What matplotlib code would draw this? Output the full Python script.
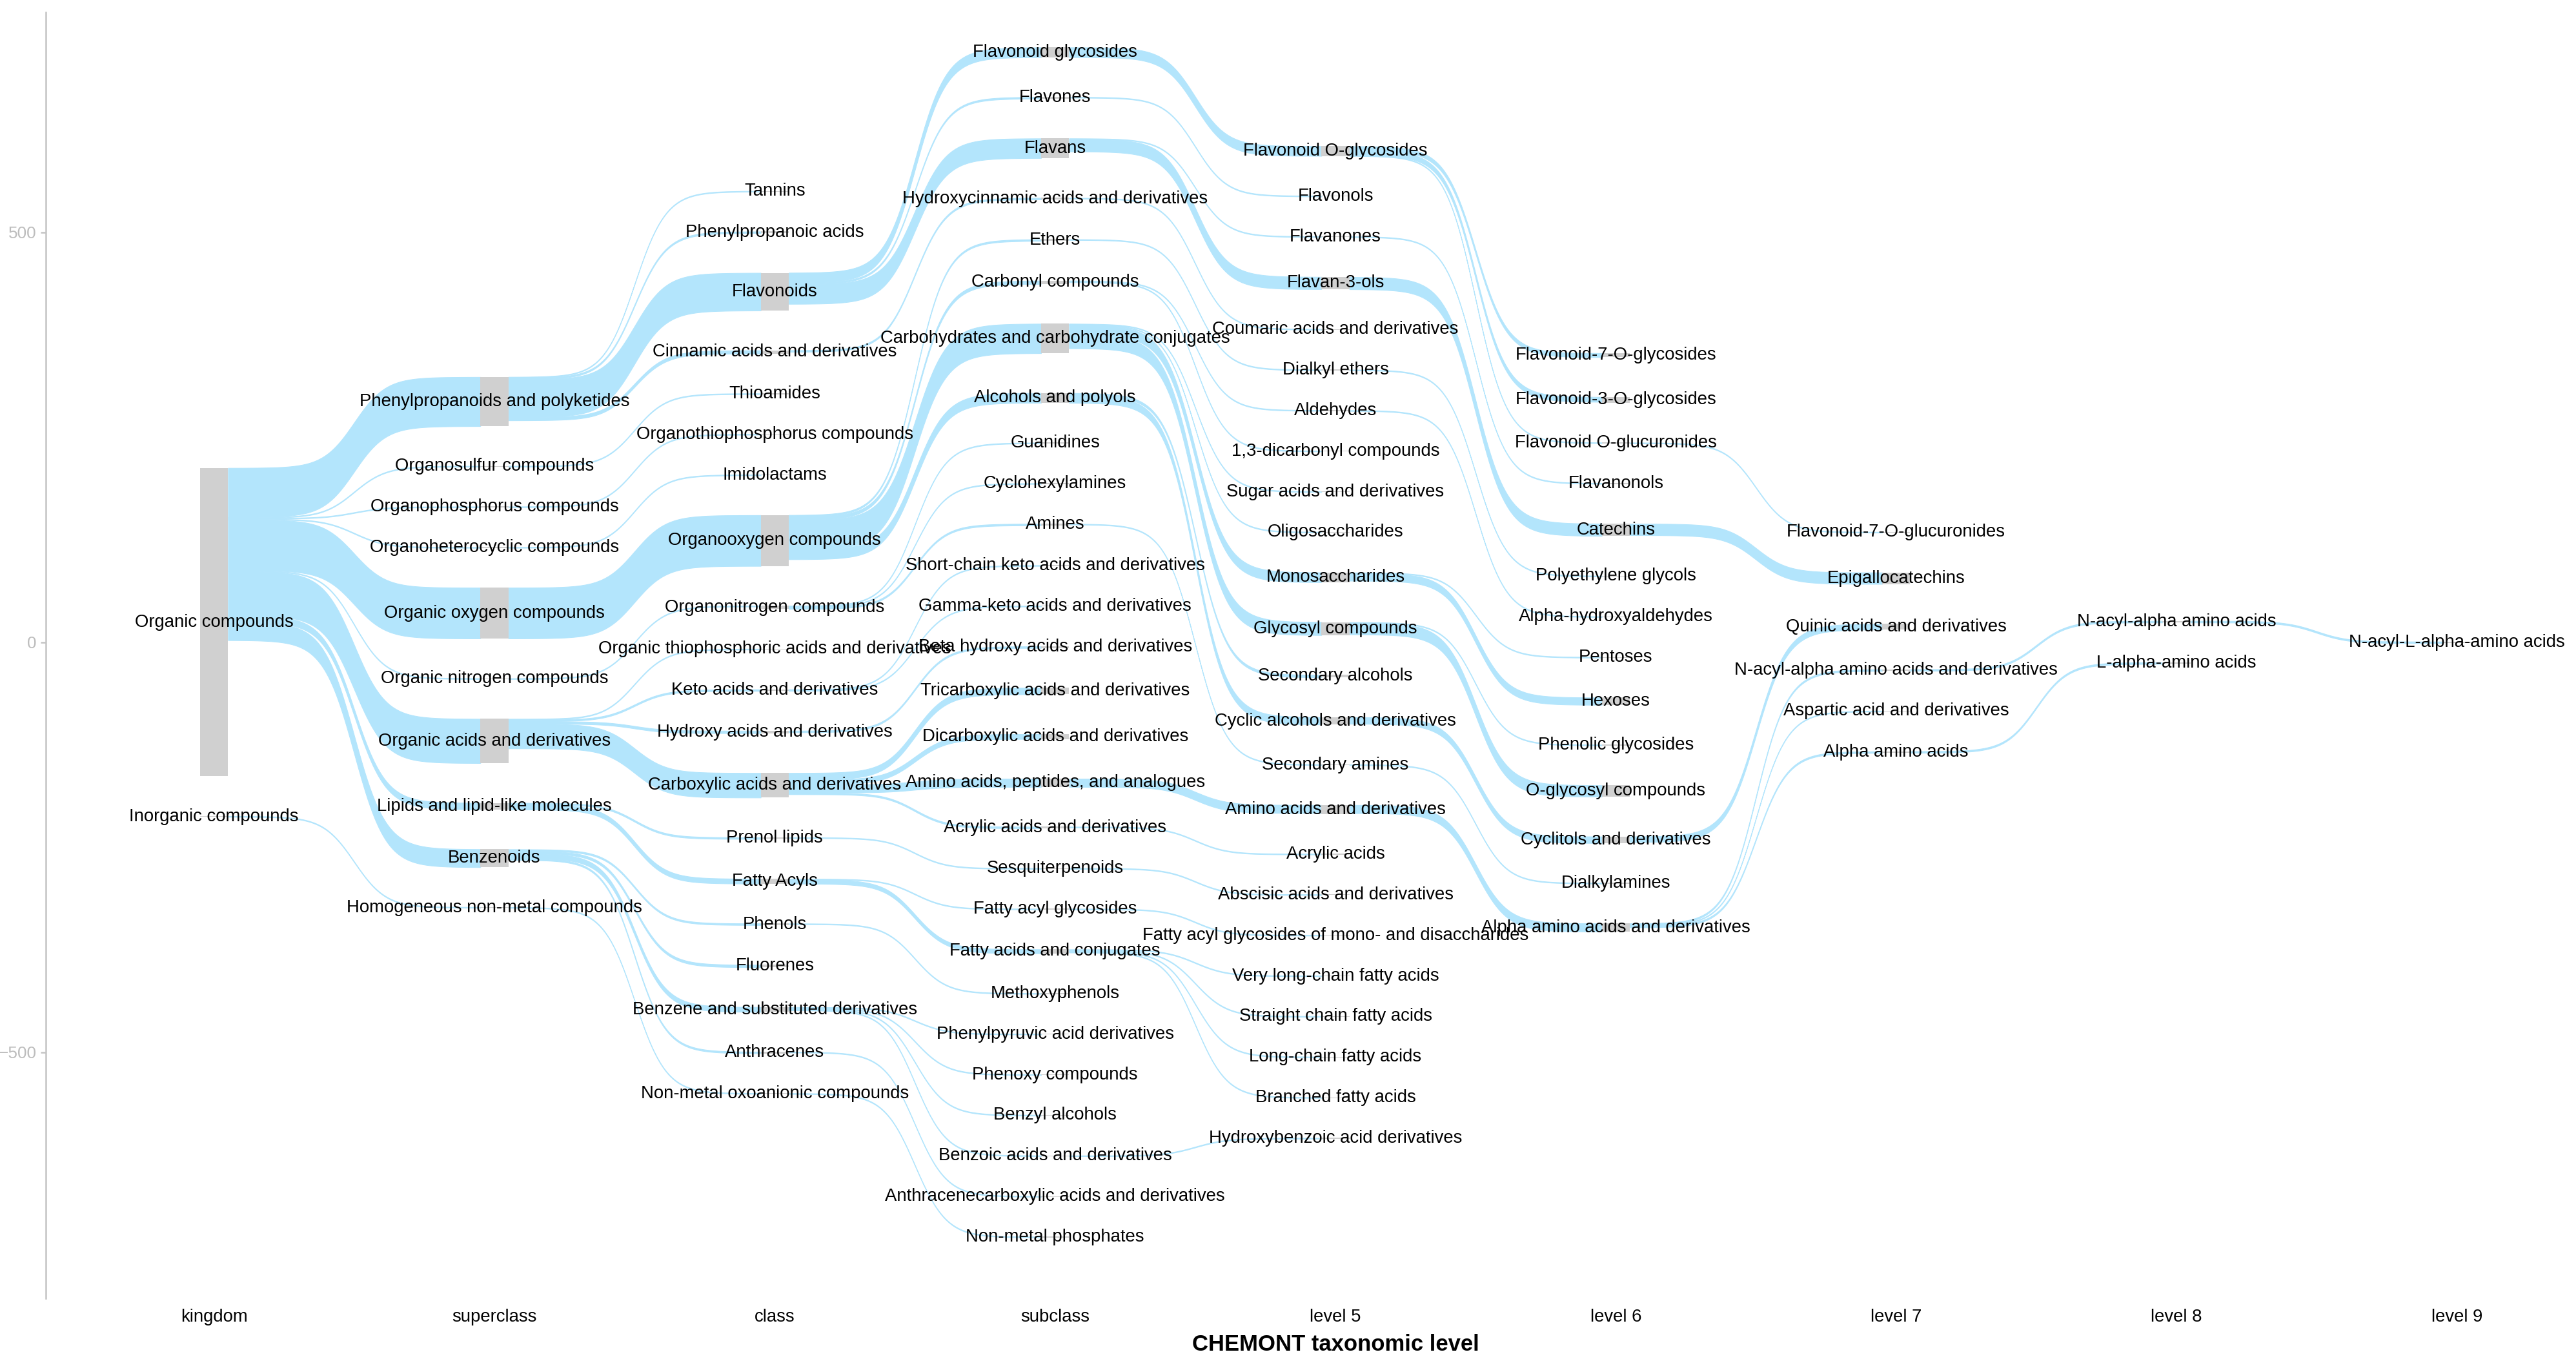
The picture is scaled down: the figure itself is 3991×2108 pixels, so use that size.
#!/usr/bin/env python3
"""CHEMONT taxonomy sankey (ggsankey style) recreated with matplotlib."""
import matplotlib
matplotlib.use("Agg")
import matplotlib.pyplot as plt
import numpy as np
from matplotlib.patches import Rectangle

plt.rcParams["font.family"] = ["Liberation Sans", "DejaVu Sans"]

FLOW = "#b3e5fc"
NODE = "#d0d0d0"
AXIS_GREY = "#c4c4c4"
SPACE = 48.5      # gap between nodes (y units)
NODE_W = 0.1      # node width (x units)

LEVELS = ["kingdom", "superclass", "class", "subclass", "level 5",
          "level 6", "level 7", "level 8", "level 9"]

# --- nodes per level (top -> bottom) and their counts ---
KINGDOM = ["Organic compounds", "Inorganic compounds"]
KINGDOM_N = [376, 1]

SUPERCLASS = ["Phenylpropanoids and polyketides", "Organosulfur compounds",
              "Organophosphorus compounds", "Organoheterocyclic compounds",
              "Organic oxygen compounds", "Organic nitrogen compounds",
              "Organic acids and derivatives", "Lipids and lipid-like molecules",
              "Benzenoids", "Homogeneous non-metal compounds"]
SUPERCLASS_N = [60, 1, 1, 1, 62, 1, 54, 8, 22, 1]

CLASS = ["Tannins", "Phenylpropanoic acids", "Flavonoids",
         "Cinnamic acids and derivatives", "Thioamides",
         "Organothiophosphorus compounds", "Imidolactams",
         "Organooxygen compounds", "Organonitrogen compounds",
         "Organic thiophosphoric acids and derivatives",
         "Keto acids and derivatives", "Hydroxy acids and derivatives",
         "Carboxylic acids and derivatives", "Prenol lipids", "Fatty Acyls",
         "Phenols", "Fluorenes", "Benzene and substituted derivatives",
         "Anthracenes", "Non-metal oxoanionic compounds"]
CLASS_N = [1, 2, 46, 4, 1, 1, 1, 62, 4, 1, 2, 3, 30, 2, 6, 2, 3, 6, 2, 1]

SUBCLASS = ["Flavonoid glycosides", "Flavones", "Flavans",
            "Hydroxycinnamic acids and derivatives", "Ethers",
            "Carbonyl compounds", "Carbohydrates and carbohydrate conjugates",
            "Alcohols and polyols", "Guanidines", "Cyclohexylamines", "Amines",
            "Short-chain keto acids and derivatives",
            "Gamma-keto acids and derivatives",
            "Beta hydroxy acids and derivatives",
            "Tricarboxylic acids and derivatives",
            "Dicarboxylic acids and derivatives",
            "Amino acids, peptides, and analogues",
            "Acrylic acids and derivatives", "Sesquiterpenoids",
            "Fatty acyl glycosides", "Fatty acids and conjugates",
            "Methoxyphenols", "Phenylpyruvic acid derivatives",
            "Phenoxy compounds", "Benzyl alcohols",
            "Benzoic acids and derivatives",
            "Anthracenecarboxylic acids and derivatives", "Non-metal phosphates"]
SUBCLASS_N = [12, 2, 24, 2, 2, 4, 36, 12, 1, 1, 2, 1, 1, 2, 8, 6, 10, 2,
              1, 1, 5, 1, 1, 1, 1, 1, 1, 1]

LEVEL5 = ["Flavonoid O-glycosides", "Flavonols", "Flavanones", "Flavan-3-ols",
          "Coumaric acids and derivatives", "Dialkyl ethers", "Aldehydes",
          "1,3-dicarbonyl compounds", "Sugar acids and derivatives",
          "Oligosaccharides", "Monosaccharides", "Glycosyl compounds",
          "Secondary alcohols", "Cyclic alcohols and derivatives",
          "Secondary amines", "Amino acids and derivatives", "Acrylic acids",
          "Abscisic acids and derivatives",
          "Fatty acyl glycosides of mono- and disaccharides",
          "Very long-chain fatty acids", "Straight chain fatty acids",
          "Long-chain fatty acids", "Branched fatty acids",
          "Hydroxybenzoic acid derivatives"]
LEVEL5_N = [12, 1, 1, 15, 1, 1, 1, 1, 1, 1, 12, 16, 3, 9, 1, 11,
            1, 1, 1, 1, 1, 1, 1, 1]

LEVEL6 = ["Flavonoid-7-O-glycosides", "Flavonoid-3-O-glycosides",
          "Flavonoid O-glucuronides", "Flavanonols", "Catechins",
          "Polyethylene glycols", "Alpha-hydroxyaldehydes", "Pentoses",
          "Hexoses", "Phenolic glycosides", "O-glycosyl compounds",
          "Cyclitols and derivatives", "Dialkylamines",
          "Alpha amino acids and derivatives"]
LEVEL6_N = [5, 7, 1, 1, 15, 1, 1, 1, 9, 1, 14, 8, 1, 10]

LEVEL7 = ["Flavonoid-7-O-glucuronides", "Epigallocatechins",
          "Quinic acids and derivatives",
          "N-acyl-alpha amino acids and derivatives",
          "Aspartic acid and derivatives", "Alpha amino acids"]
LEVEL7_N = [1, 14, 7, 2, 1, 2]

LEVEL8 = ["N-acyl-alpha amino acids", "L-alpha-amino acids"]
LEVEL8_N = [2, 2]

LEVEL9 = ["N-acyl-L-alpha-amino acids"]
LEVEL9_N = [2]

# --- flows between consecutive levels: (source, target, count) ---
LINKS_1_2 = [
    ("Organic compounds", "Phenylpropanoids and polyketides", 60),
    ("Organic compounds", "Organosulfur compounds", 1),
    ("Organic compounds", "Organophosphorus compounds", 1),
    ("Organic compounds", "Organoheterocyclic compounds", 1),
    ("Organic compounds", "Organic oxygen compounds", 62),
    ("Organic compounds", "Organic nitrogen compounds", 1),
    ("Organic compounds", "Organic acids and derivatives", 54),
    ("Organic compounds", "Lipids and lipid-like molecules", 8),
    ("Organic compounds", "Benzenoids", 22),
    ("Inorganic compounds", "Homogeneous non-metal compounds", 1),
]
LINKS_2_3 = [
    ("Phenylpropanoids and polyketides", "Tannins", 1),
    ("Phenylpropanoids and polyketides", "Phenylpropanoic acids", 2),
    ("Phenylpropanoids and polyketides", "Flavonoids", 46),
    ("Phenylpropanoids and polyketides", "Cinnamic acids and derivatives", 4),
    ("Organosulfur compounds", "Thioamides", 1),
    ("Organophosphorus compounds", "Organothiophosphorus compounds", 1),
    ("Organoheterocyclic compounds", "Imidolactams", 1),
    ("Organic oxygen compounds", "Organooxygen compounds", 62),
    ("Organic nitrogen compounds", "Organonitrogen compounds", 1),
    ("Organic acids and derivatives", "Organic thiophosphoric acids and derivatives", 1),
    ("Organic acids and derivatives", "Keto acids and derivatives", 2),
    ("Organic acids and derivatives", "Hydroxy acids and derivatives", 3),
    ("Organic acids and derivatives", "Carboxylic acids and derivatives", 30),
    ("Lipids and lipid-like molecules", "Prenol lipids", 2),
    ("Lipids and lipid-like molecules", "Fatty Acyls", 6),
    ("Benzenoids", "Phenols", 2),
    ("Benzenoids", "Fluorenes", 3),
    ("Benzenoids", "Benzene and substituted derivatives", 6),
    ("Benzenoids", "Anthracenes", 2),
    ("Homogeneous non-metal compounds", "Non-metal oxoanionic compounds", 1),
]
LINKS_3_4 = [
    ("Flavonoids", "Flavonoid glycosides", 12),
    ("Flavonoids", "Flavones", 2),
    ("Flavonoids", "Flavans", 24),
    ("Cinnamic acids and derivatives", "Hydroxycinnamic acids and derivatives", 2),
    ("Organooxygen compounds", "Ethers", 2),
    ("Organooxygen compounds", "Carbonyl compounds", 4),
    ("Organooxygen compounds", "Carbohydrates and carbohydrate conjugates", 36),
    ("Organooxygen compounds", "Alcohols and polyols", 12),
    ("Organonitrogen compounds", "Guanidines", 1),
    ("Organonitrogen compounds", "Cyclohexylamines", 1),
    ("Organonitrogen compounds", "Amines", 2),
    ("Keto acids and derivatives", "Short-chain keto acids and derivatives", 1),
    ("Keto acids and derivatives", "Gamma-keto acids and derivatives", 1),
    ("Hydroxy acids and derivatives", "Beta hydroxy acids and derivatives", 2),
    ("Carboxylic acids and derivatives", "Tricarboxylic acids and derivatives", 8),
    ("Carboxylic acids and derivatives", "Dicarboxylic acids and derivatives", 6),
    ("Carboxylic acids and derivatives", "Amino acids, peptides, and analogues", 10),
    ("Carboxylic acids and derivatives", "Acrylic acids and derivatives", 2),
    ("Prenol lipids", "Sesquiterpenoids", 1),
    ("Fatty Acyls", "Fatty acyl glycosides", 1),
    ("Fatty Acyls", "Fatty acids and conjugates", 5),
    ("Phenols", "Methoxyphenols", 1),
    ("Benzene and substituted derivatives", "Phenylpyruvic acid derivatives", 1),
    ("Benzene and substituted derivatives", "Phenoxy compounds", 1),
    ("Benzene and substituted derivatives", "Benzyl alcohols", 1),
    ("Benzene and substituted derivatives", "Benzoic acids and derivatives", 1),
    ("Anthracenes", "Anthracenecarboxylic acids and derivatives", 1),
    ("Non-metal oxoanionic compounds", "Non-metal phosphates", 1),
]
LINKS_4_5 = [
    ("Flavonoid glycosides", "Flavonoid O-glycosides", 12),
    ("Flavones", "Flavonols", 1),
    ("Flavans", "Flavanones", 1),
    ("Flavans", "Flavan-3-ols", 15),
    ("Hydroxycinnamic acids and derivatives", "Coumaric acids and derivatives", 1),
    ("Ethers", "Dialkyl ethers", 1),
    ("Carbonyl compounds", "Aldehydes", 1),
    ("Carbonyl compounds", "1,3-dicarbonyl compounds", 1),
    ("Carbohydrates and carbohydrate conjugates", "Sugar acids and derivatives", 1),
    ("Carbohydrates and carbohydrate conjugates", "Oligosaccharides", 1),
    ("Carbohydrates and carbohydrate conjugates", "Monosaccharides", 12),
    ("Carbohydrates and carbohydrate conjugates", "Glycosyl compounds", 16),
    ("Alcohols and polyols", "Secondary alcohols", 3),
    ("Alcohols and polyols", "Cyclic alcohols and derivatives", 9),
    ("Amines", "Secondary amines", 1),
    ("Amino acids, peptides, and analogues", "Amino acids and derivatives", 10),
    ("Acrylic acids and derivatives", "Acrylic acids", 1),
    ("Sesquiterpenoids", "Abscisic acids and derivatives", 1),
    ("Fatty acyl glycosides", "Fatty acyl glycosides of mono- and disaccharides", 1),
    ("Fatty acids and conjugates", "Very long-chain fatty acids", 1),
    ("Fatty acids and conjugates", "Straight chain fatty acids", 1),
    ("Fatty acids and conjugates", "Long-chain fatty acids", 1),
    ("Fatty acids and conjugates", "Branched fatty acids", 1),
    ("Benzoic acids and derivatives", "Hydroxybenzoic acid derivatives", 1),
]
LINKS_5_6 = [
    ("Flavonoid O-glycosides", "Flavonoid-7-O-glycosides", 5),
    ("Flavonoid O-glycosides", "Flavonoid-3-O-glycosides", 6),
    ("Flavonoid O-glycosides", "Flavonoid O-glucuronides", 1),
    ("Flavanones", "Flavanonols", 1),
    ("Flavan-3-ols", "Catechins", 15),
    ("Dialkyl ethers", "Polyethylene glycols", 1),
    ("Aldehydes", "Alpha-hydroxyaldehydes", 1),
    ("Monosaccharides", "Pentoses", 1),
    ("Monosaccharides", "Hexoses", 9),
    ("Glycosyl compounds", "Phenolic glycosides", 1),
    ("Glycosyl compounds", "O-glycosyl compounds", 14),
    ("Cyclic alcohols and derivatives", "Cyclitols and derivatives", 8),
    ("Secondary amines", "Dialkylamines", 1),
    ("Amino acids and derivatives", "Alpha amino acids and derivatives", 10),
]
LINKS_6_7 = [
    ("Flavonoid O-glucuronides", "Flavonoid-7-O-glucuronides", 1),
    ("Catechins", "Epigallocatechins", 14),
    ("Cyclitols and derivatives", "Quinic acids and derivatives", 7),
    ("Alpha amino acids and derivatives", "N-acyl-alpha amino acids and derivatives", 2),
    ("Alpha amino acids and derivatives", "Aspartic acid and derivatives", 1),
    ("Alpha amino acids and derivatives", "Alpha amino acids", 2),
]
LINKS_7_8 = [
    ("N-acyl-alpha amino acids and derivatives", "N-acyl-alpha amino acids", 2),
    ("Alpha amino acids", "L-alpha-amino acids", 2),
]
LINKS_8_9 = [
    ("N-acyl-alpha amino acids", "N-acyl-L-alpha-amino acids", 2),
]

NODES = [KINGDOM, SUPERCLASS, CLASS, SUBCLASS, LEVEL5, LEVEL6, LEVEL7, LEVEL8, LEVEL9]
COUNTS = [KINGDOM_N, SUPERCLASS_N, CLASS_N, SUBCLASS_N, LEVEL5_N, LEVEL6_N,
          LEVEL7_N, LEVEL8_N, LEVEL9_N]
LINKS = [LINKS_1_2, LINKS_2_3, LINKS_3_4, LINKS_4_5, LINKS_5_6, LINKS_6_7,
         LINKS_7_8, LINKS_8_9]


def stack_nodes(names, counts):
    """ggsankey-like stacking: nodes separated by SPACE and centred on 0."""
    total = sum(counts) + SPACE * (len(counts) - 1)
    top = total / 2
    out = {}
    for name, n in zip(names, counts):
        out[name] = (top, top - n)
        top -= n + SPACE
    return out


def sigmoid_band(ax, x0, x1, a_top, a_bot, b_top, b_bot, smooth=8, npts=200):
    t = np.linspace(-smooth, smooth, npts)
    s = 1 / (1 + np.exp(-t))
    xs = x0 + (t + smooth) / (2 * smooth) * (x1 - x0)
    top = a_top + (b_top - a_top) * s
    bot = a_bot + (b_bot - a_bot) * s
    ax.fill_between(xs, bot, top, color=FLOW, lw=0.25, ec=FLOW, zorder=1)


def main():
    fig = plt.figure(figsize=(3991 / 300, 2108 / 300), dpi=300)
    ax = fig.add_axes([71 / 3991, 97 / 2108, 3996 / 3991, 1992 / 2108])
    ax.set_xlim(0.4, 9.6)
    ax.set_ylim(-800, 768.5)

    layout = [stack_nodes(n, c) for n, c in zip(NODES, COUNTS)]

    # flows: leave each node from the top, ordered by target; enter likewise
    for i, links in enumerate(LINKS):
        src_lay, dst_lay = layout[i], layout[i + 1]
        src_order, dst_order = NODES[i], NODES[i + 1]
        out_pos, in_pos = {}, {}
        for s in src_order:
            y = src_lay[s][0]
            for a, b, n in sorted([l for l in links if l[0] == s],
                                  key=lambda l: dst_order.index(l[1])):
                out_pos[(a, b)] = (y, y - n)
                y -= n
        for d in dst_order:
            y = dst_lay[d][0]
            for a, b, n in sorted([l for l in links if l[1] == d],
                                  key=lambda l: src_order.index(l[0])):
                in_pos[(a, b)] = (y, y - n)
                y -= n
        x0 = i + 1 + NODE_W / 2
        x1 = i + 2 - NODE_W / 2
        for a, b, n in links:
            (at, ab), (bt, bb) = out_pos[(a, b)], in_pos[(a, b)]
            sigmoid_band(ax, x0, x1, at, ab, bt, bb)

    # nodes + labels
    for i, lay in enumerate(layout):
        x = i + 1
        for name in NODES[i]:
            ytop, ybot = lay[name]
            ax.add_patch(Rectangle((x - NODE_W / 2, ybot), NODE_W, ytop - ybot,
                                   fc=NODE, ec="none", zorder=2))
            ax.text(x, (ytop + ybot) / 2, name, ha="center", va="center",
                    fontsize=6.6, color="black", zorder=3)

    for side in ["top", "right", "bottom"]:
        ax.spines[side].set_visible(False)
    ax.spines["left"].set_color(AXIS_GREY)
    ax.spines["left"].set_linewidth(0.6)

    ax.set_yticks([-500, 0, 500])
    ax.tick_params(axis="y", colors=AXIS_GREY, labelcolor="#bdbdbd",
                   length=2.0, width=0.6, pad=1.5, labelsize=6.3)
    ax.set_xticks(range(1, len(LEVELS) + 1))
    ax.set_xticklabels(LEVELS)
    ax.tick_params(axis="x", length=0, pad=3.8, labelsize=6.6, labelcolor="black")
    ax.set_xlabel("CHEMONT taxonomic level", fontsize=8.3, fontweight="bold",
                  labelpad=3.2)

    fig.savefig("out.png", dpi=300)


if __name__ == "__main__":
    main()
